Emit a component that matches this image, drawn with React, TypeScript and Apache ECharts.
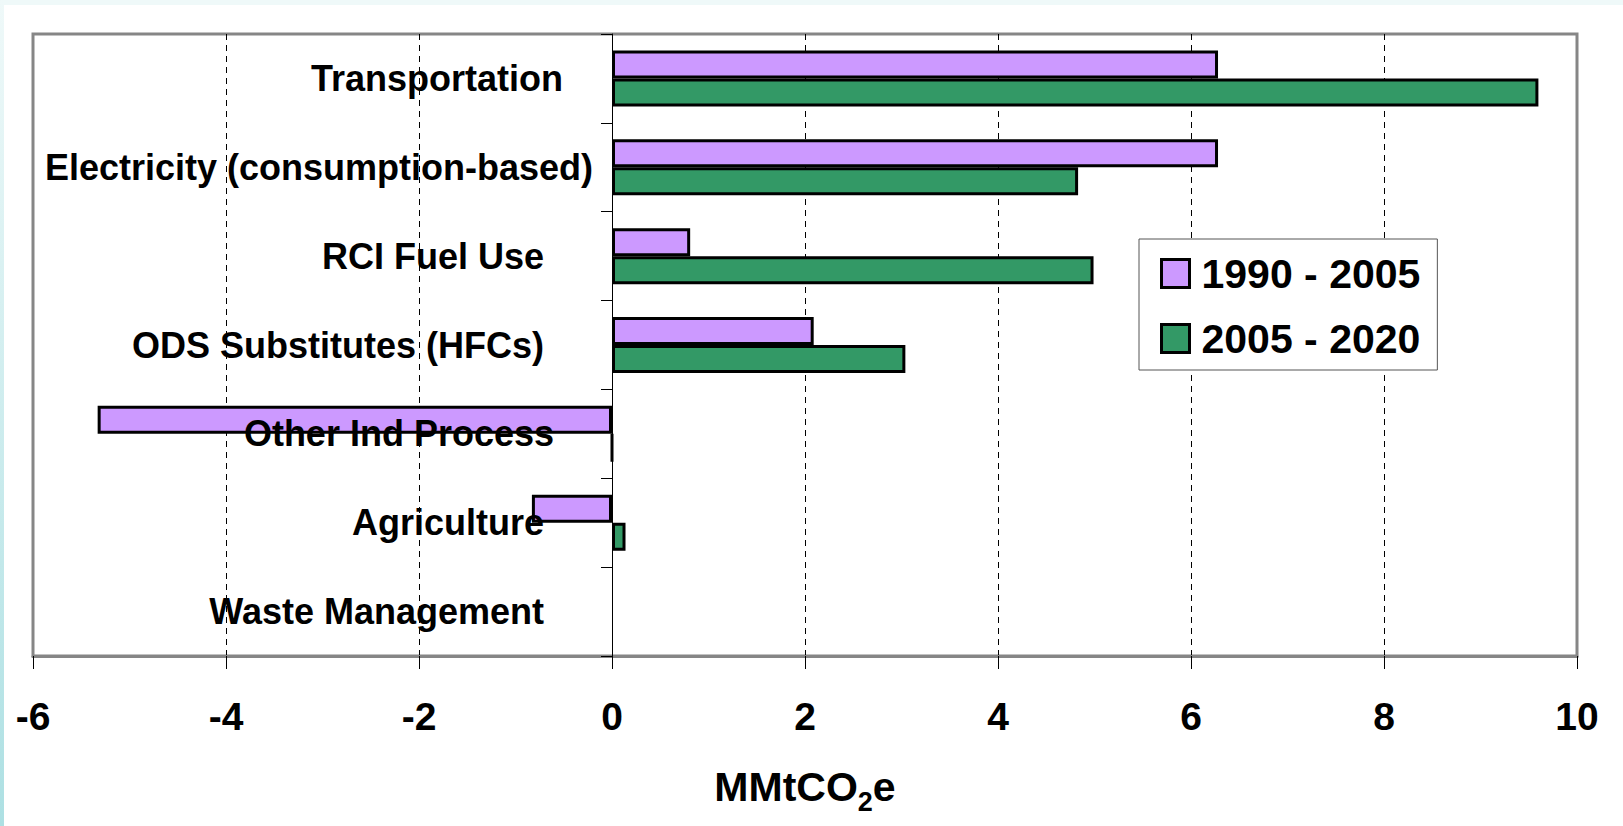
import { useEffect, useRef } from 'react';
import * as echarts from 'echarts';

const categories = [
  'Transportation',
  'Electricity (consumption-based)',
  'RCI Fuel Use',
  'ODS Substitutes (HFCs)',
  'Other Ind Process',
  'Agriculture',
  'Waste Management',
];
const seriesNames = ['1990 - 2005', '2005 - 2020'];
const values1990to2005 = [6.28, 6.28, 0.81, 2.09, -5.33, -0.83, null];
const values2005to2020 = [9.6, 4.83, 4.99, 3.04, 0, 0.14, null];
const xMin = -6;
const xMax = 10;
const xInterval = 2;
// extra right padding of each category label (style)
const labelPadRight = [30, 0, 49, 49, 39, 49, 49];

const FONT = "'Liberation Sans', Arial, Helvetica, sans-serif";

const GRID_LEFT = 33;
const GRID_WIDTH = 1544;

export default function App() {
  const ref = useRef<HTMLDivElement>(null);
  useEffect(() => {
    if (!ref.current) return;
    const chart = echarts.init(ref.current, undefined, { renderer: 'svg' });
    const rich: Record<string, any> = {};
    labelPadRight.forEach((p, i) => {
      rich['p' + i] = {
        fontSize: 36,
        fontWeight: 'bold',
        fontFamily: FONT,
        color: '#000',
        padding: [0, p, 0, 0],
      };
    });
    // place the category axis on the zero of the value axis
    const zeroOffset = -((0 - xMin) / (xMax - xMin)) * GRID_WIDTH;
    chart.setOption({
      animation: false,
      backgroundColor: '#ffffff',
      textStyle: { fontFamily: FONT },
      graphic: [
        {
          type: 'rect',
          shape: { x: 0, y: 0, width: 1623, height: 5 },
          style: { fill: '#eff9f9' },
          silent: true,
        },
        {
          type: 'rect',
          shape: { x: 0, y: 0, width: 4, height: 826 },
          style: {
            fill: new echarts.graphic.LinearGradient(0, 0, 0, 1, [
              { offset: 0, color: '#eff9f9' },
              { offset: 1, color: '#ade0e3' },
            ]),
          },
          silent: true,
        },
      ],
      grid: {
        left: GRID_LEFT,
        top: 34,
        width: GRID_WIDTH,
        height: 622,
        show: true,
        borderColor: '#868686',
        borderWidth: 3,
        backgroundColor: '#ffffff',
        containLabel: false,
        outerBoundsMode: 'none',
      },
      legend: {
        orient: 'vertical',
        left: 1139,
        top: 239,
        padding: [14, 17, 11, 21],
        itemGap: 24,
        itemWidth: 28,
        itemHeight: 28,
        icon: 'rect',
        backgroundColor: '#ffffff',
        borderColor: '#555555',
        borderWidth: 1,
        itemStyle: { borderColor: '#000', borderWidth: 3 },
        textStyle: {
          fontSize: 41,
          fontWeight: 'bold',
          fontFamily: FONT,
          color: '#000',
          lineHeight: 41,
          padding: [0, 0, 0, 7],
        },
        data: seriesNames,
      },
      xAxis: {
        type: 'value',
        min: xMin,
        max: xMax,
        interval: xInterval,
        axisLine: { show: true, onZero: false, lineStyle: { color: '#868686', width: 3 } },
        axisTick: { show: true, length: 13, lineStyle: { color: '#000', width: 1 } },
        axisLabel: {
          fontSize: 39,
          fontWeight: 'bold',
          fontFamily: FONT,
          color: '#000',
          lineHeight: 39,
          margin: 41,
        },
        splitLine: {
          show: true,
          showMinLine: false,
          showMaxLine: false,
          lineStyle: { color: '#000', width: 1, type: [6, 5] },
        },
        name: '{a|MMtCO}{s|2}{a|e}',
        nameLocation: 'middle',
        nameGap: 110,
        nameTextStyle: {
          rich: {
            a: {
              fontSize: 41,
              fontWeight: 'bold',
              fontFamily: FONT,
              color: '#000',
              lineHeight: 41,
              verticalAlign: 'top',
            },
            s: {
              fontSize: 27,
              fontWeight: 'bold',
              fontFamily: FONT,
              color: '#000',
              lineHeight: 27,
              verticalAlign: 'top',
              padding: [22, 0, 0, 0],
            },
          },
        },
      },
      yAxis: {
        type: 'category',
        inverse: true,
        data: categories,
        z: 5,
        offset: zeroOffset,
        axisLine: { show: true, onZero: false, lineStyle: { color: '#000', width: 1 } },
        axisTick: { show: true, length: 11, lineStyle: { color: '#000', width: 1 } },
        axisLabel: {
          interval: 0,
          margin: 19,
          formatter: (v: string, i: number) => `{p${i}|${v}}`,
          rich,
        },
        splitLine: { show: false },
      },
      series: [
        {
          name: seriesNames[0],
          type: 'bar',
          data: values1990to2005,
          barGap: '0%',
          barCategoryGap: '37%',
          itemStyle: { color: '#cc99ff', borderColor: '#000', borderWidth: 3 },
        },
        {
          name: seriesNames[1],
          type: 'bar',
          data: values2005to2020,
          barGap: '0%',
          barCategoryGap: '37%',
          itemStyle: { color: '#339966', borderColor: '#000', borderWidth: 3 },
        },
      ],
    });
    return () => chart.dispose();
  }, []);
  return (
    <div
      ref={ref}
      style={{ position: 'absolute', left: 0, top: 0, width: 1623, height: 826, background: '#fff' }}
    />
  );
}
